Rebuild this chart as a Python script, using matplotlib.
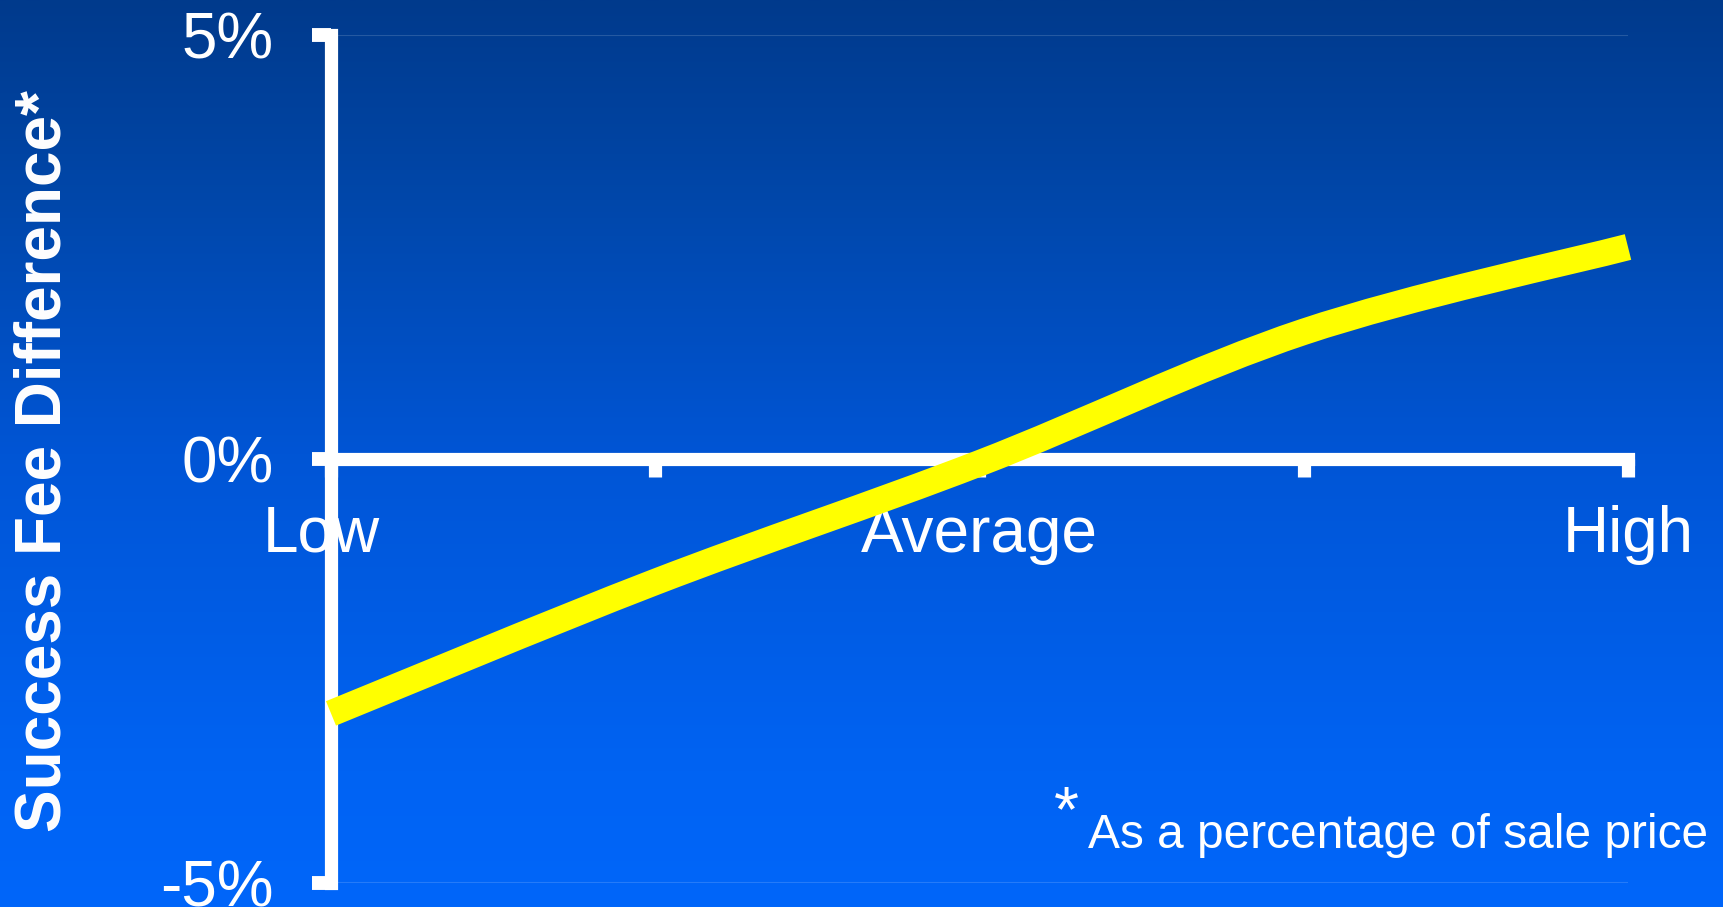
import numpy as np
import matplotlib
matplotlib.use('Agg')
import matplotlib.pyplot as plt
import matplotlib.transforms as mtransforms
from matplotlib.path import Path
from matplotlib.patches import PathPatch

plt.rcParams['font.family'] = ['Liberation Sans', 'DejaVu Sans']

# data
categories = ['Low', '', 'Average', '', 'High']
fee_diff = [-3.0, -1.45, -0.05, 1.5, 2.5]   # percent of sale price
ytick_vals = [-5, 0, 5]
ytick_labels = ['-5%', '0%', '5%']

ylabel = 'Success Fee Difference*'
footnote = 'As a percentage of sale price'

W, H = 1724, 907
fig = plt.figure(figsize=(W/100, H/100), dpi=100)

# background gradient (dark blue top -> bright blue bottom)
bg = fig.add_axes([0, 0, 1, 1], zorder=-1)
stops_y = [0.0, 0.22, 0.5, 0.85, 1.0]
stops_c = np.array([[0, 58, 140], [0, 71, 170], [0, 85, 213], [0, 99, 243], [0, 102, 250]]) / 255.
rows = np.linspace(0, 1, 400)
grad = np.stack([np.interp(rows, stops_y, stops_c[:, k]) for k in range(3)], axis=-1)
bg.imshow(grad[:, None, :], aspect='auto', extent=[0, 1, 0, 1], origin='upper')
bg.axis('off')

ax = fig.add_axes([331/W, 1-883/H, (1628-331)/W, (883-35)/H])
ax.set_facecolor('none')
x = np.arange(len(categories))
ax.set_xlim(0, len(categories)-1)
ax.set_ylim(-5, 5)

# smoothed line (Excel style bezier through the points)
pts = np.column_stack([x, fee_diff]).astype(float)
ext = np.vstack([pts[0], pts, pts[-1]])
verts = [tuple(pts[0])]
codes = [Path.MOVETO]
for i in range(len(pts)-1):
    p0, p1, p2, p3 = ext[i], ext[i+1], ext[i+2], ext[i+3]
    c1 = p1 + (p2 - p0) / 6.
    c2 = p2 - (p3 - p1) / 6.
    verts += [tuple(c1), tuple(c2), tuple(p2)]
    codes += [Path.CURVE4]*3
patch = PathPatch(Path(verts, codes), fill=False, edgecolor='#FFFF00', lw=19,
                  capstyle='butt', joinstyle='round', zorder=4, clip_on=False)
ax.add_patch(patch)

# axes styling
for s in ['top', 'right']:
    ax.spines[s].set_visible(False)
ax.spines['bottom'].set_position(('data', 0))
for s in ['left', 'bottom']:
    ax.spines[s].set_color('white')
    ax.spines[s].set_linewidth(9.5)
    ax.spines[s].set_zorder(3)

ax.set_yticks(ytick_vals)
ax.set_yticklabels(ytick_labels)
ax.set_xticks(x)
ax.set_xticklabels(categories)
ax.tick_params(axis='y', colors='white', labelsize=46, length=14, width=10, pad=27)
ax.tick_params(axis='x', colors='white', labelsize=46, length=13, width=9.5, pad=20)

# "Low" sits a little left of its tick in the reference
lbl = ax.get_xticklabels()[0]
lbl.set_transform(lbl.get_transform() + mtransforms.ScaledTranslation(-10/100, 0, fig.dpi_scale_trans))

ax.yaxis.grid(True, color='white', alpha=0.15, lw=1.5)
ax.set_axisbelow(True)

fig.text(44/W, 1-461/H, ylabel, rotation=90, ha='center', va='center',
         fontsize=46, fontweight='bold', color='white')
fig.text(1088/W, 1-848/H, footnote, ha='left', va='baseline', fontsize=34.5, color='white')
fig.text(1054/W, 1-784/H, '*', ha='left', va='top', fontsize=46, color='white')

fig.savefig('out.png', dpi=100)
